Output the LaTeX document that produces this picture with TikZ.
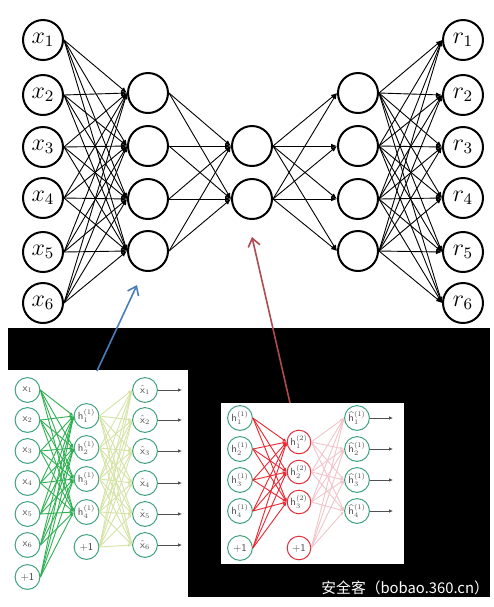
\documentclass[tikz,border=0pt]{standalone}
\usepackage{amsmath, amssymb}
\usepackage{graphicx}
\usepackage{fontspec}
\newfontfamily\cjkfont{Noto Sans CJK SC}
\usetikzlibrary{arrows.meta}
\definecolor{ring-green}{HTML}{3FA27C}
\definecolor{edge-green}{HTML}{2FB052}
\definecolor{edge-pale}{HTML}{D5E3A6}
\definecolor{ring-red}{HTML}{E0323C}
\definecolor{edge-red}{HTML}{EC2630}
\definecolor{edge-pink}{HTML}{F1C5CB}
\definecolor{label-grey}{HTML}{505050}
\definecolor{arrow-blue}{HTML}{4A7DB9}
\definecolor{arrow-red}{HTML}{B04A52}
\newcommand{\panellab}[1]{\scalebox{0.58}{#1}}

\begin{document}
\begin{tikzpicture}[x=0.5pt, y=-0.5pt,
        bignode/.style={circle, draw=black, line width=1pt, fill=white,
            minimum size=20pt, inner sep=0pt, font=\fontsize{12}{14}\selectfont},
        smallnode/.style={circle, draw=ring-green, line width=0.5pt, fill=white,
            minimum size=12.4pt, inner sep=0pt, text=label-grey,
            font=\fontsize{9}{10}\selectfont\sffamily},
        rednode/.style={smallnode, draw=ring-red, minimum size=11.8pt},
        topedge/.style={line width=0.45pt, -{Latex[length=3pt, width=2.4pt]}},
        greenedge/.style={edge-green, line width=0.45pt, -{Latex[length=2pt, width=1.6pt]}},
        paleedge/.style={edge-pale, line width=0.45pt, -{Latex[length=2pt, width=1.6pt]}},
        rededge/.style={edge-red, line width=0.45pt, -{Latex[length=2pt, width=1.6pt]}},
        pinkedge/.style={edge-pink, line width=0.45pt, -{Latex[length=2pt, width=1.6pt]}},
        outarrow/.style={label-grey, line width=0.5pt, -{Latex[length=2pt, width=1.8pt]}},
        pointer/.style={line width=0.8pt, -{Straight Barb[length=4pt, width=6pt]}}]
      \useasboundingbox (0,0) rectangle (494,607);
      \fill[white] (0,0) rectangle (494,607);

      % top autoencoder
      \foreach \i/\yy in {1/40, 2/95, 3/147, 4/198, 5/252, 6/303} {
        \node[bignode] (x\i) at (43,\yy) {$x_{\i}$};
        \node[bignode] (r\i) at (463,\yy) {$r_{\i}$};
      }
      \foreach \j/\yy in {1/93, 2/146, 3/199, 4/251} {
        \node[bignode] (a\j) at (148,\yy) {};
        \node[bignode] (c\j) at (358,\yy) {};
      }
      \node[bignode] (b1) at (252,146) {};
      \node[bignode] (b2) at (252,199) {};
      \foreach \i in {1,...,6}
        \foreach \j in {1,...,4} {
          \draw[topedge] (x\i.east) -- (a\j.west);
          \draw[topedge] (c\j.east) -- (r\i.west);
        }
      \foreach \j in {1,...,4}
        \foreach \k in {1,2} {
          \draw[topedge] (a\j.east) -- (b\k.west);
          \draw[topedge] (b\k.east) -- (c\j.west);
        }

      % black backdrop and the two panels
      \fill[black] (8,328) rectangle (490,597);
      \fill[white] (0,370) rectangle (188,607);
      \fill[white] (221,403) rectangle (404,564);

      % left panel: first autoencoder
      \foreach \i/\yy in {1/390, 2/420, 3/451, 4/483, 5/514, 6/545} {
        \node[smallnode] (in\i) at (27.5,\yy) {\panellab{$\mathsf{x}_{\i}$}};
        \node[smallnode] (out\i) at (145,\yy) {\panellab{$\hat{\mathsf{x}}_{\i}$}};
        \coordinate (end\i) at (182,\yy);
        \draw[outarrow] (out\i.east) -- (end\i);
      }
      \node[smallnode] (in7) at (27.5,577) {\panellab{+1}};
      \foreach \j/\yy in {1/416, 2/448, 3/479, 4/512}
        \node[smallnode] (hid\j) at (86.5,\yy) {\panellab{$\mathsf{h}^{(1)}_{\j}$}};
      \node[smallnode] (hid5) at (86.5,547) {\panellab{+1}};
      \foreach \i in {1,...,7}
        \foreach \j in {1,...,4}
          \draw[greenedge] (in\i.east) -- (hid\j.west);
      \foreach \j in {1,...,5}
        \foreach \i in {1,...,6}
          \draw[paleedge] (hid\j.east) -- (out\i.west);

      % right panel: second autoencoder
      \foreach \j/\yy in {1/418, 2/449, 3/480, 4/511} {
        \node[smallnode] (p\j) at (240,\yy) {\panellab{$\mathsf{h}^{(1)}_{\j}$}};
        \node[smallnode] (s\j) at (357,\yy) {\panellab{$\widehat{\mathsf{h}}^{(1)}_{\j}$}};
        \coordinate (send\j) at (393,\yy);
        \draw[outarrow] (s\j.east) -- (send\j);
      }
      \node[smallnode] (p5) at (240,548) {\panellab{+1}};
      \foreach \k/\yy in {1/442, 2/472, 3/502}
        \node[rednode] (q\k) at (299,\yy) {\panellab{$\mathsf{h}^{(2)}_{\k}$}};
      \node[rednode] (q4) at (299,548) {\panellab{+1}};
      \foreach \j in {1,...,5}
        \foreach \k in {1,2,3}
          \draw[rededge] (p\j.east) -- (q\k.west);
      \foreach \k in {1,...,4}
        \foreach \j in {1,...,4}
          \draw[pinkedge] (q\k.east) -- (s\j.west);

      % pointers from the panels to the layers
      \coordinate (blue-tail) at (97,371);
      \coordinate (blue-tip) at (137,285);
      \draw[pointer, arrow-blue] (blue-tail) -- (blue-tip);
      \coordinate (red-tail) at (290,403);
      \coordinate (red-tip) at (252,237);
      \draw[pointer, arrow-red] (red-tail) -- (red-tip);

      \node[anchor=west, text=white, inner sep=0pt,
            font=\cjkfont\fontsize{7.4}{8}\selectfont] (mark) at (321,588) {安全客（bobao.360.cn）};
    \end{tikzpicture}
\end{document}
